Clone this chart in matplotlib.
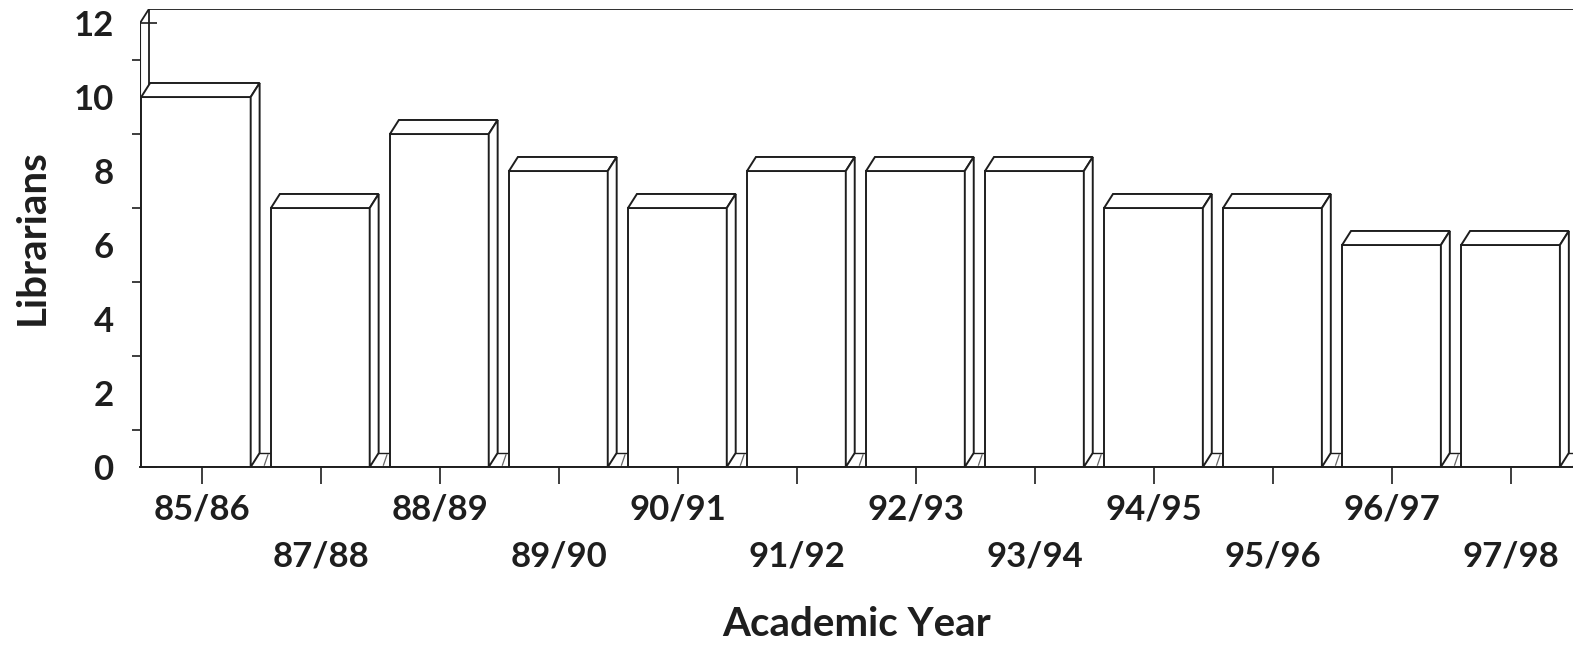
import numpy as np
import matplotlib
matplotlib.use('Agg')
import matplotlib.pyplot as plt
from matplotlib.patches import Polygon

# data
years = ['85/86', '87/88', '88/89', '89/90', '90/91', '91/92',
         '92/93', '93/94', '94/95', '95/96', '96/97', '97/98']
librarians = [10, 7, 9, 8, 7, 8, 8, 8, 7, 7, 6, 6]

plt.rcParams['font.family'] = ['Lato', 'DejaVu Sans']
plt.rcParams['font.weight'] = 'bold'

INK = '#1e1e1e'
W = 1573
H = 649
fig = plt.figure(figsize=(W / 100, H / 100), dpi=100)
ax = fig.add_axes([140 / W, 1 - 467 / H, 1 - 140 / W, (467 - 9) / H])

x = np.arange(len(years))
x0, x1 = -0.52, 11.52
dx, dy = 0.075, 0.38     # depth of the 3d effect in data units
ymax = 12

ax.set_xlim(x0, x1)
ax.set_ylim(0, ymax + dy)

# back floor line and back wall
ax.plot([x0 + dx, x1], [dy, dy], color=INK, lw=1.0, zorder=1)
ax.plot([x0 + dx, x0 + dx], [dy, ymax + dy], color=INK, lw=1.3, zorder=1)
ax.plot([x0 + dx, x1], [ymax + dy, ymax + dy], color=INK, lw=1.3, zorder=1)
ax.plot([x0, x0 + dx], [ymax, ymax + dy], color=INK, lw=1.3, zorder=1)
ax.plot([x0, x0], [0, ymax], color=INK, lw=1.5, zorder=5)

left, right = -0.42, 0.41
for i, v in enumerate(librarians):
    xl = x[i] + left
    xr = x[i] + right
    if i == 0:
        xl = x0 + 0.01
    front = Polygon([(xl, 0), (xr, 0), (xr, v), (xl, v)], closed=True,
                    facecolor='white', edgecolor=INK, lw=1.4, zorder=3)
    top = Polygon([(xl, v), (xr, v), (xr + dx, v + dy), (xl + dx, v + dy)],
                  closed=True, facecolor='white', edgecolor=INK, lw=1.4, zorder=3)
    side = Polygon([(xr, 0), (xr + dx, dy), (xr + dx, v + dy), (xr, v)],
                   closed=True, facecolor='white', edgecolor=INK, lw=1.4, zorder=3)
    for p in (front, top, side):
        ax.add_patch(p)
    # little hatch stroke in the floor gap
    ax.plot([xr + dx + 0.04, xr + dx + 0.07], [0.05, dy - 0.05],
            color='#666666', lw=0.9, zorder=2)

ax.spines['top'].set_visible(False)
ax.spines['right'].set_visible(False)
ax.spines['left'].set_visible(False)
ax.spines['bottom'].set_color(INK)
ax.spines['bottom'].set_linewidth(1.4)
ax.spines['bottom'].set_zorder(4)

ax.set_yticks(np.arange(0, 13, 2))
ax.set_yticks(np.arange(1, 12, 2), minor=True)
ax.tick_params(axis='y', which='major', direction='in', length=12, width=1.2,
               color=INK, labelsize=25, pad=19)
ax.tick_params(axis='y', which='minor', direction='out', length=6, width=1.2,
               color=INK)
ax.set_xticks(x)
ax.set_xticklabels(years)
ax.tick_params(axis='x', which='major', direction='out', length=12, width=1.2,
               color=INK, labelsize=25, pad=7)
for i, t in enumerate(ax.xaxis.get_major_ticks()):
    if i % 2 == 1:
        t.set_pad(41)
for t in ax.get_xticklabels() + ax.get_yticklabels():
    t.set_fontweight('bold')
    t.set_color(INK)

fig.text((140 + W) / 2 / W, 1 - 625 / H, 'Academic Year', ha='center',
         va='center', fontsize=29, fontweight='bold', color=INK)
fig.text(32 / W, 1 - 237 / H, 'Librarians', ha='center', va='center',
         rotation=90, fontsize=29, fontweight='bold', color=INK)

fig.savefig('out.png', dpi=100, facecolor='white')
